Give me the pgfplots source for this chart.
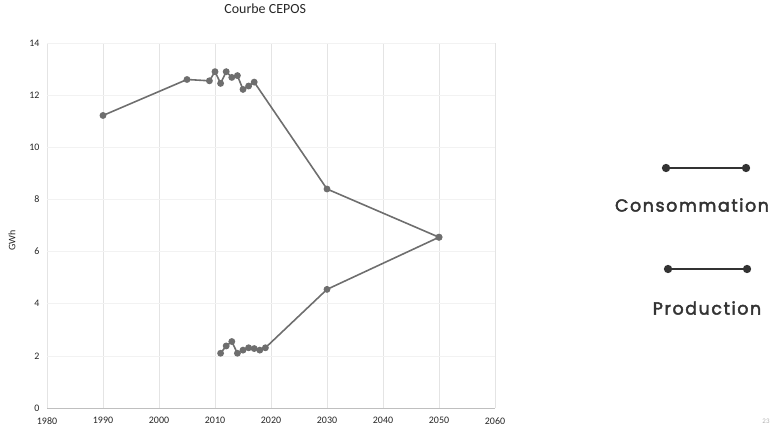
\documentclass[border=0pt]{standalone}
\usepackage{fontspec}
\setmainfont{Carlito}
\newfontfamily\legfont{Poppins}[LetterSpace=9,FakeBold=2.5]
\usepackage{pgfplots}
\pgfplotsset{compat=1.18}
\definecolor{linegray}{HTML}{6E6E6E}
\definecolor{leggray}{HTML}{333333}
\definecolor{gridgray}{HTML}{E4E4E4}
\definecolor{hgridgray}{HTML}{F2F2F2}
\begin{document}
\begin{tikzpicture}[x=1bp,y=1bp]
\path (0,0) rectangle (784,432);
\begin{axis}[
  scale only axis,
  width=448bp, height=365bp,
  at={(47bp,24bp)}, anchor=south west,
  xmin=1980, xmax=2060, ymin=0, ymax=14,
  xtick={1980,1990,...,2060}, ytick={0,2,...,14},
  /pgf/number format/assume math mode=true,
  /pgf/number format/1000 sep={},
  axis line style={draw=none},
  axis x line*=bottom,
  x axis line style={draw=gray!50, line width=0.8pt},
  axis y line*=left,
  y axis line style={draw=none},
  tick style={draw=none},
  xmajorgrids=true,
  ymajorgrids=true,
  x grid style={draw=gridgray, line width=0.6pt},
  y grid style={draw=hgridgray, line width=0.6pt},
  tick label style={font=\fontsize{10}{11}\selectfont, text=black!85},
  xticklabel style={yshift=-6bp},
  yticklabel style={xshift=-4bp},
  ylabel={GWh},
  ylabel style={font=\fontsize{10}{11}\selectfont, at={(axis description cs:-0.078,0.46)}, anchor=center, text=black!85},
  title={Courbe CEPOS},
  title style={font=\fontsize{14}{15}\selectfont, at={(axis description cs:0.487,1.077)}, anchor=center, text=black!85},
  clip=false,
]
\addplot[color=linegray, line width=1.6pt, mark=*, mark size=2.6pt, mark options={fill=linegray, draw=linegray}]
coordinates {
(1990,11.22) (2005,12.6) (2009,12.55) (2010,12.9) (2011,12.45) (2012,12.9) (2013,12.68) (2014,12.75) (2015,12.22) (2016,12.35) (2017,12.5) (2030,8.4) (2050,6.55)
};
\addplot[color=linegray, line width=1.6pt, mark=*, mark size=2.6pt, mark options={fill=linegray, draw=linegray}]
coordinates {
(2011,2.1) (2012,2.38) (2013,2.55) (2014,2.1) (2015,2.22) (2016,2.31) (2017,2.28) (2018,2.22) (2019,2.31) (2030,4.55) (2050,6.55)
};
\end{axis}
\begin{axis}[
  scale only axis, width=784bp, height=432bp,
  at={(0bp,0bp)}, anchor=south west,
  xmin=0, xmax=784, ymin=0, ymax=432, y dir=reverse,
  hide axis, clip=false,
]
\addplot[color=leggray, line width=1.8pt, mark=*, mark size=3.2pt, mark options={fill=leggray, draw=leggray}]
coordinates {(666,168) (746,168)};
\addplot[color=leggray, line width=1.8pt, mark=*, mark size=3.2pt, mark options={fill=leggray, draw=leggray}]
coordinates {(668,269) (747,269)};
\node[font=\legfont\fontsize{17.5}{18}\selectfont, text=leggray] at (axis cs:692,205) {Consommation};
\node[font=\legfont\fontsize{17.5}{18}\selectfont, text=leggray] at (axis cs:707,308) {Production};
\node[font=\fontsize{7}{8}\selectfont, text=black!30] at (axis cs:766,421) {23};
\end{axis}
\end{tikzpicture}
\end{document}
